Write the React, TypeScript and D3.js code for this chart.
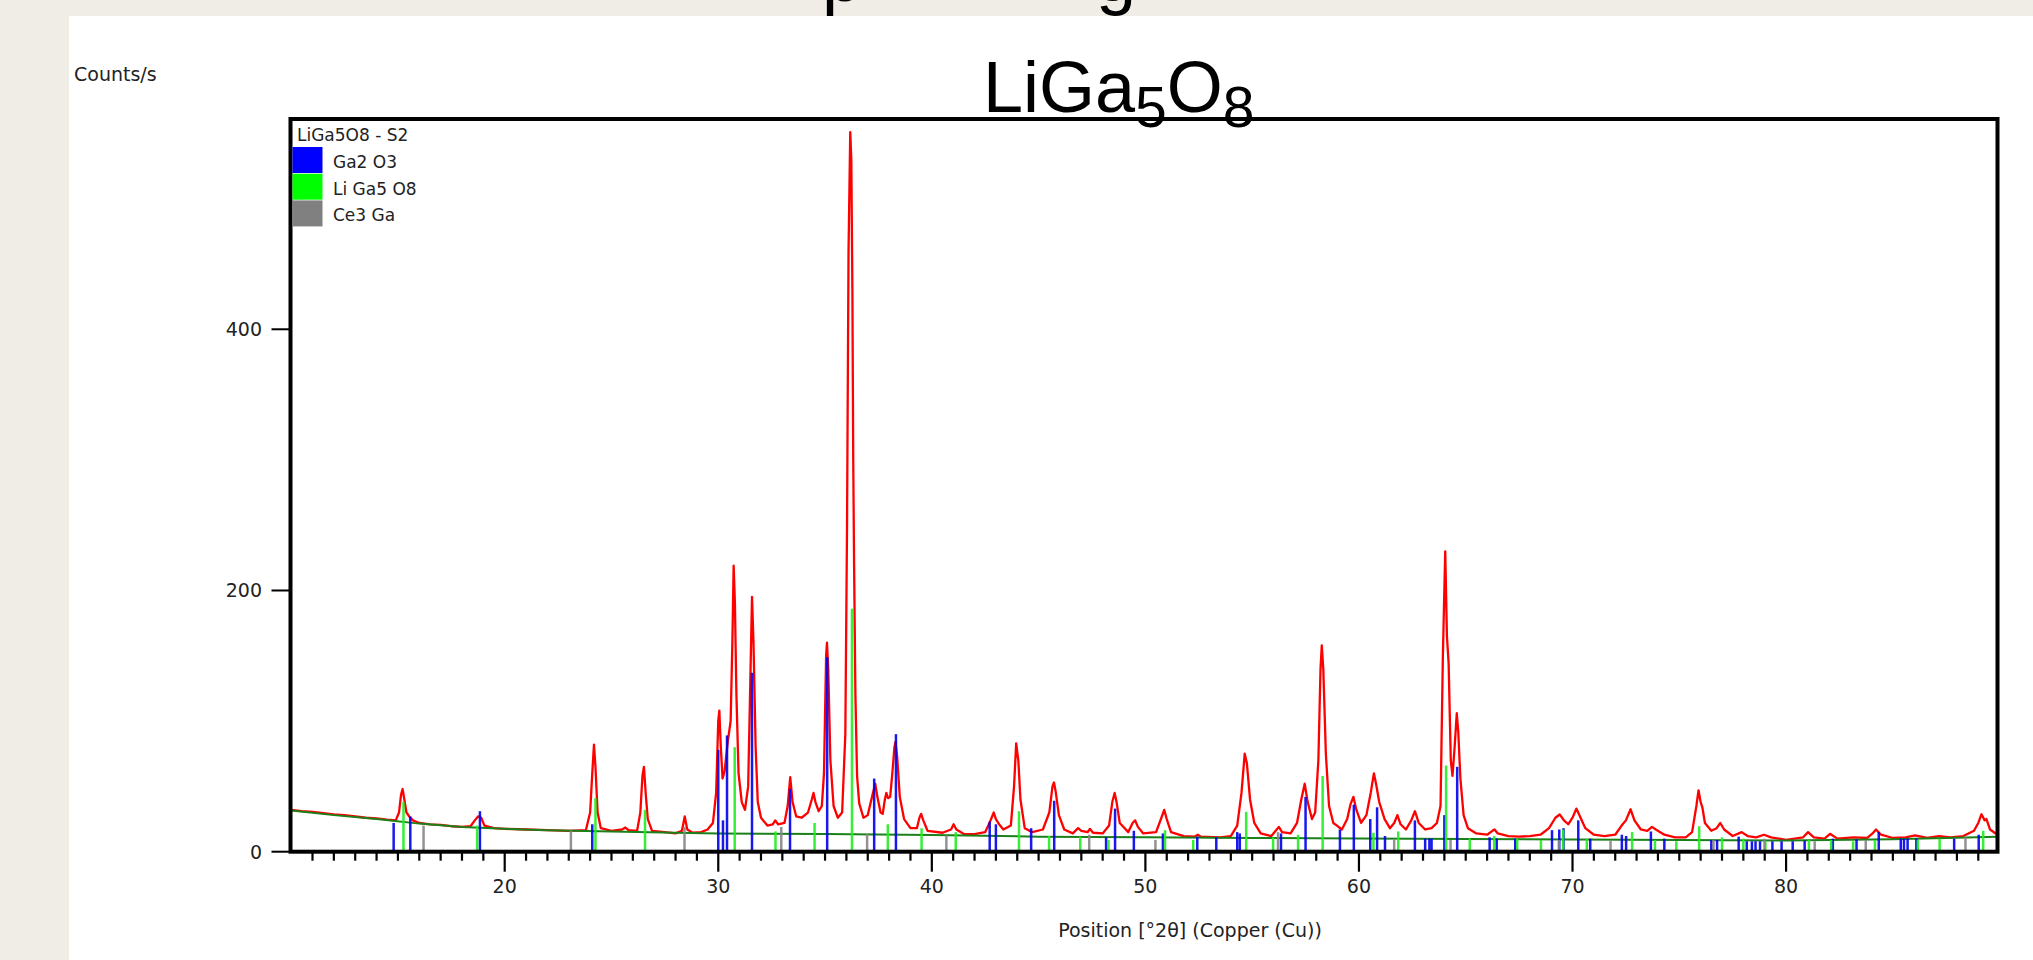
import React from 'react';
import * as d3 from 'd3';

// ---- Data ----
// Measured pattern (2θ in degrees, counts/s)
const profile: [number, number][] = [
  [10.0, 32], [10.5, 31], [11.0, 30.5], [11.5, 29.5], [12.0, 28.5], [12.5, 28], [13.0, 27], [13.5, 26],
  [14.0, 25.5], [14.5, 24.5], [14.9, 24], [15.05, 30], [15.15, 44], [15.22, 48], [15.3, 40], [15.4, 30],
  [15.55, 26.5], [15.7, 24], [16.0, 22], [16.5, 21], [17.0, 20.5], [17.5, 19.5], [18.0, 19], [18.4, 19.5],
  [18.6, 24], [18.75, 27], [18.9, 26], [19.05, 20], [19.5, 18], [20.0, 17.5], [21.0, 17], [22.0, 16.5],
  [23.0, 16], [23.8, 16.5], [24.0, 30], [24.1, 60], [24.18, 82], [24.25, 65], [24.35, 30], [24.5, 18],
  [25.0, 16], [25.5, 17], [25.65, 18.5], [25.8, 16.5], [26.2, 16], [26.35, 30], [26.45, 58], [26.52, 65],
  [26.6, 45], [26.7, 25], [26.9, 16], [27.5, 15], [28.0, 14], [28.3, 16], [28.43, 27], [28.55, 17],
  [28.8, 14.5], [29.2, 15], [29.5, 17], [29.75, 22], [29.9, 45], [30.0, 100], [30.05, 108], [30.12, 80],
  [30.2, 56], [30.3, 62], [30.45, 85], [30.58, 100], [30.66, 160], [30.72, 219], [30.78, 190], [30.85, 120],
  [30.95, 60], [31.1, 38], [31.25, 32], [31.4, 50], [31.5, 130], [31.58, 195], [31.65, 160], [31.75, 80],
  [31.85, 38], [32.0, 26], [32.3, 20], [32.55, 21], [32.67, 24], [32.8, 21], [33.1, 22], [33.25, 35],
  [33.37, 57], [33.48, 38], [33.65, 27], [33.9, 26], [34.2, 30], [34.38, 40], [34.46, 45], [34.55, 38],
  [34.7, 31], [34.85, 35], [34.95, 60], [35.05, 150], [35.09, 160], [35.15, 140], [35.25, 70], [35.4, 35],
  [35.6, 26], [35.8, 30], [35.95, 90], [36.03, 250], [36.1, 460], [36.18, 551], [36.23, 530], [36.28, 430],
  [36.32, 300], [36.36, 220], [36.42, 122], [36.5, 58], [36.6, 37], [36.8, 26], [37.0, 28], [37.2, 42],
  [37.35, 52], [37.45, 42], [37.6, 30], [37.7, 29], [37.8, 40], [37.87, 45], [37.95, 41], [38.05, 42],
  [38.15, 60], [38.25, 80], [38.3, 84], [38.38, 72], [38.5, 42], [38.7, 25], [39.0, 18], [39.3, 18],
  [39.42, 26], [39.5, 29], [39.6, 24], [39.8, 16], [40.5, 14.5], [40.9, 17], [41.02, 21], [41.15, 17],
  [41.5, 13.5], [42.0, 13.5], [42.5, 15], [42.7, 22], [42.9, 30], [43.0, 25], [43.15, 21], [43.35, 17],
  [43.7, 20], [43.85, 50], [43.95, 83], [44.05, 70], [44.15, 40], [44.35, 18], [44.7, 15], [45.2, 17],
  [45.5, 30], [45.65, 50], [45.72, 53], [45.8, 46], [45.95, 28], [46.2, 17], [46.6, 14], [46.85, 18],
  [47.0, 16], [47.3, 15], [47.4, 17.5], [47.55, 14.5], [48.0, 14], [48.3, 20], [48.45, 38], [48.56, 45],
  [48.65, 38], [48.8, 22], [49.2, 15], [49.4, 22], [49.52, 24], [49.65, 19], [49.9, 14], [50.5, 15],
  [50.75, 26], [50.88, 32], [51.0, 25], [51.2, 15], [51.8, 12], [52.3, 11.5], [52.45, 13], [52.6, 11.5],
  [53.5, 11], [54.0, 12], [54.3, 20], [54.5, 45], [54.65, 75], [54.75, 68], [54.9, 40], [55.1, 22],
  [55.4, 14], [55.9, 12], [56.1, 16], [56.25, 19], [56.4, 15], [56.8, 14], [57.1, 22], [57.3, 40],
  [57.46, 52], [57.6, 38], [57.8, 25], [57.95, 30], [58.1, 70], [58.2, 140], [58.26, 158], [58.33, 140],
  [58.45, 75], [58.6, 35], [58.8, 22], [58.97, 20], [59.2, 17], [59.45, 25], [59.6, 36], [59.74, 42],
  [59.88, 32], [60.1, 22], [60.35, 28], [60.55, 45], [60.7, 60], [60.8, 52], [60.95, 38], [61.2, 25],
  [61.45, 18], [61.65, 22], [61.8, 28], [61.95, 21], [62.2, 17], [62.45, 24], [62.62, 31], [62.8, 22],
  [63.1, 17], [63.4, 18], [63.65, 22], [63.82, 35], [63.93, 150], [64.04, 230], [64.12, 165], [64.2, 144],
  [64.3, 70], [64.38, 58], [64.48, 80], [64.58, 106], [64.65, 92], [64.75, 56], [64.9, 28], [65.1, 18],
  [65.5, 14], [66.0, 13], [66.25, 16], [66.35, 17], [66.5, 14], [67.0, 12], [67.5, 11.5], [68.0, 12],
  [68.5, 13], [68.9, 18], [69.2, 26], [69.4, 28.5], [69.6, 24], [69.8, 21], [70.0, 26], [70.18, 33],
  [70.35, 27], [70.6, 18], [71.0, 13], [71.5, 12], [72.0, 13], [72.3, 20], [72.5, 24], [72.72, 32.5],
  [72.9, 24], [73.2, 17], [73.5, 16], [73.72, 19], [73.9, 17], [74.3, 13], [74.8, 11], [75.3, 11],
  [75.6, 15], [75.8, 35], [75.9, 47], [76.0, 38], [76.08, 34], [76.2, 22], [76.5, 16], [76.75, 18],
  [76.92, 22], [77.1, 17], [77.5, 12], [77.92, 15], [78.2, 12], [78.6, 11], [78.96, 13], [79.3, 11],
  [80.0, 9], [80.8, 11], [81.03, 15], [81.3, 11], [81.8, 10], [82.06, 13.7], [82.4, 10], [83.17, 11],
  [83.8, 10.5], [84.05, 14], [84.21, 17], [84.45, 13], [85.0, 10.5], [85.6, 11], [86.04, 12.5], [86.6, 10.5],
  [87.16, 12], [87.7, 11], [88.3, 12], [88.8, 16], [89.0, 22], [89.15, 28.7], [89.3, 24], [89.38, 25],
  [89.55, 17], [89.9, 13],
];

// Fitted background (dark green)
const background: [number, number][] = [
  [10, 31.5], [12, 28], [14, 25], [16, 21.5], [18, 19], [20, 17.5], [22, 16.5], [25, 15.5], [28, 14.5],
  [30, 14], [35, 13.5], [40, 12.8], [45, 11.5], [50, 11], [55, 10.5], [60, 10.2], [65, 9.8], [70, 9.3],
  [75, 9], [80, 8.5], [85, 9.5], [89.9, 11.5],
];

// Reference patterns (position, height)
const ga2o3: [number, number][] = [
  [14.8, 22], [15.58, 27], [18.84, 31], [24.1, 21], [30.0, 78], [30.22, 24], [30.41, 89], [31.58, 137],
  [33.36, 48], [35.1, 149], [37.3, 56], [38.32, 90], [42.71, 23], [43.0, 21], [44.65, 18], [45.73, 39],
  [48.16, 11], [48.58, 33], [49.46, 16], [50.82, 14], [52.43, 11.5], [53.32, 11], [54.3, 15], [54.42, 14],
  [56.35, 14], [57.5, 42], [59.11, 17], [59.76, 36], [60.53, 25], [60.85, 34], [61.22, 12], [62.62, 24],
  [63.1, 10], [63.3, 10], [63.4, 10], [64.0, 28], [64.6, 65], [66.12, 11], [66.45, 10], [67.32, 10],
  [69.04, 16.5], [69.38, 17], [69.58, 18], [70.27, 24], [70.83, 10], [72.31, 13], [72.51, 12], [73.67, 15.5],
  [74.3, 10], [76.5, 9], [76.77, 9], [77.78, 11.5], [78.16, 8], [78.4, 8], [78.57, 8], [78.78, 8],
  [79.36, 8], [79.79, 8], [80.31, 8], [80.87, 8.5], [82.19, 10], [83.3, 9.5], [84.34, 15], [85.37, 10],
  [85.52, 10], [85.69, 10], [86.1, 10], [87.87, 10], [89.02, 13],
];
const liga5o8: [number, number][] = [
  [15.26, 38], [18.71, 20], [24.25, 41], [26.57, 32], [30.77, 80], [32.68, 15.5], [34.51, 22], [36.26, 186],
  [37.94, 21], [39.52, 18], [41.12, 15], [44.08, 31], [45.49, 12], [46.95, 11.5], [48.27, 9], [50.92, 16.5],
  [52.24, 9], [54.72, 30.5], [55.98, 11], [57.15, 13], [58.3, 58], [60.68, 14.5], [61.84, 15.5], [64.08, 66],
  [65.19, 10], [66.33, 12], [67.41, 10], [68.52, 9], [69.56, 17], [70.67, 10], [72.79, 15], [73.86, 9],
  [74.86, 8], [75.93, 19.5], [77.0, 11], [78.0, 10], [79.03, 8], [81.07, 9], [82.11, 9], [83.14, 8],
  [84.16, 9], [86.17, 9], [87.19, 10], [89.23, 16],
];
const ce3ga: [number, number][] = [
  [16.2, 20], [23.1, 16], [28.42, 19], [32.95, 19], [36.97, 13.5], [40.68, 12.5], [47.37, 13], [50.47, 9],
  [56.21, 15], [61.65, 9.5], [64.29, 9], [69.36, 9], [71.78, 9], [76.6, 9], [78.99, 10], [81.34, 8],
  [83.73, 9], [88.4, 11],
];

const xMajorTicks = [20, 30, 40, 50, 60, 70, 80];
const yTicks = [0, 200, 400];
const legendTitle = 'LiGa5O8 - S2';
const legendLabels = ['Ga2 O3', 'Li Ga5 O8', 'Ce3 Ga'];
const xTitle = 'Position [°2θ] (Copper (Cu))';
const yTitle = 'Counts/s';

export default function App() {
  const W = 2033, H = 960;
  const left = 290.5, right = 1997.5, top = 119, bottom = 851.7;
  const x = d3.scaleLinear().domain([9.97, 89.9]).range([left, right]);
  const y = d3.scaleLinear().domain([0, 561]).range([bottom, top]);
  const line = d3.line<[number, number]>().x(d => x(d[0])).y(d => y(d[1]));
  const minorTicks = d3.range(11, 90).filter(v => v % 10 !== 0);
  const stickColors = ['#0000ee', '#22ee22', '#888888'];
  const swatchColors = ['#0000ff', '#00ff00', '#808080'];
  const patterns = [ga2o3, liga5o8, ce3ga];
  const axisFont = 'DejaVu Sans, Verdana, sans-serif';

  return (
    <svg width={W} height={H} style={{ position: 'absolute', left: 0, top: 0, display: 'block' }}>
      <rect x={0} y={0} width={W} height={H} fill="#f0ede6" />
      <rect x={69} y={16} width={W - 69} height={H - 16} fill="#ffffff" />
      {/* descenders of a clipped heading line above */}
      <text x={822} y={1} fontFamily="Liberation Sans, Arial, sans-serif" fontSize={72} fill="#000">p</text>
      <text x={1096} y={1} fontFamily="Liberation Sans, Arial, sans-serif" fontSize={72} fill="#000">g</text>

      {/* Title */}
      <text x={983} y={112} fontFamily="Liberation Sans, Arial, sans-serif" fontSize={72} fill="#000">
        LiGa<tspan fontSize={57} dy={15}>5</tspan><tspan dy={-15}>O</tspan><tspan fontSize={57} dy={15}>8</tspan>
      </text>

      {/* y title */}
      <text x={74} y={81} fontFamily={axisFont} fontSize={19} fill="#222">{yTitle}</text>

      {/* data */}
      <g>
        <path d={line(profile) || ''} fill="none" stroke="#ff0000" strokeWidth={2.3} strokeLinejoin="round" />
        <path d={line(background) || ''} fill="none" stroke="#1a801a" strokeWidth={2} />
        {patterns.map((pat, i) => (
          <g key={i}>
            {pat.map((d, j) => (
              <line key={j} x1={x(d[0])} x2={x(d[0])} y1={y(0)} y2={y(d[1])}
                stroke={stickColors[i]} strokeWidth={2.5} opacity={0.9} />
            ))}
          </g>
        ))}
      </g>

      {/* frame */}
      <rect x={left} y={top} width={right - left} height={bottom - top} fill="none" stroke="#000" strokeWidth={4} />

      {/* x ticks */}
      {minorTicks.map(v => (
        <line key={v} x1={x(v)} x2={x(v)} y1={bottom} y2={bottom + 9} stroke="#000" strokeWidth={2.2} />
      ))}
      {xMajorTicks.map(v => (
        <g key={v}>
          <line x1={x(v)} x2={x(v)} y1={bottom} y2={bottom + 20} stroke="#000" strokeWidth={2.2} />
          <text x={x(v)} y={893} textAnchor="middle" fontFamily={axisFont} fontSize={19} fill="#222">{v}</text>
        </g>
      ))}
      {/* y ticks */}
      {yTicks.map(v => (
        <g key={v}>
          <line x1={left - 19} x2={left} y1={y(v)} y2={y(v)} stroke="#000" strokeWidth={2} />
          <text x={262} y={y(v) + 7} textAnchor="end" fontFamily={axisFont} fontSize={19} fill="#222">{v}</text>
        </g>
      ))}

      <text x={1190} y={937} textAnchor="middle" fontFamily={axisFont} fontSize={19} fill="#222">{xTitle}</text>

      {/* legend */}
      <text x={297} y={141} fontFamily={axisFont} fontSize={17} fill="#222">{legendTitle}</text>
      {legendLabels.map((lab, i) => (
        <g key={lab}>
          <rect x={292.5} y={147 + i * 26.7} width={30} height={26} fill={swatchColors[i]} />
          <text x={333} y={168 + i * 26.7} fontFamily={axisFont} fontSize={17} fill="#222">{lab}</text>
        </g>
      ))}
    </svg>
  );
}
